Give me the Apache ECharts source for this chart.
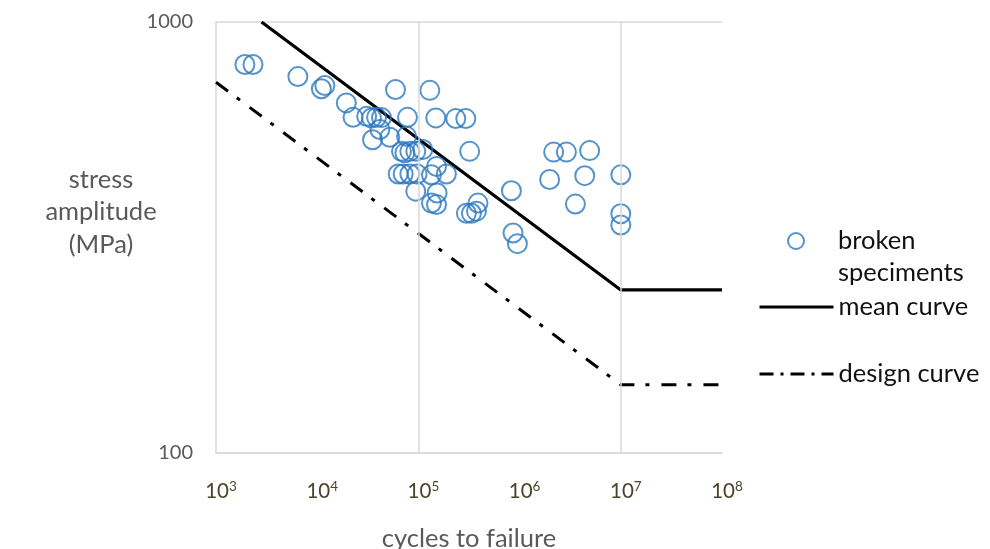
<!DOCTYPE html>
<html>
<head>
<meta charset="utf-8">
<script src="https://cdn.jsdelivr.net/npm/echarts@6/dist/echarts.min.js"></script>
<style>
  html, body { margin: 0; padding: 0; background: #ffffff; }
  #chart { width: 990px; height: 549px; }
</style>
</head>
<body>
<div id="chart"></div>
<script>
// Fatigue test results: cycles to failure vs. stress amplitude (log-log)
const specimenCycles = [
  1930, 2320, 6440, 11000, 11900, 19400, 59400, 129700,
  22600, 30800, 34400, 38600, 43200, 78000, 148600, 234000, 294000,
  35200, 52200, 41600, 76400,
  68100, 73500, 82300, 94200, 110500, 321000,
  63100, 70700, 82300, 97100, 134600, 151000, 189000,
  94200, 153000, 134600, 151000,
  298000, 334000, 375000, 388000,
  2170000, 2900000, 4920000, 1980000, 4400000, 830000, 3560000,
  10000000, 10000000, 10000000, 861000, 951000
];
const specimenStress = [
  797, 797, 747, 700, 712, 649, 697, 694,
  601, 604, 599, 601, 600, 601, 599, 597, 597,
  533, 540, 563, 543,
  501, 497, 501, 501, 506, 501,
  444, 444, 444, 444, 442, 462, 444,
  405, 401, 380, 377,
  360, 360, 364, 380,
  499, 499, 503, 431, 440, 406, 378,
  442, 359, 338, 324, 306
];

// Mean S-N curve: sloped segment, then endurance limit beyond 10^7 cycles
const meanCycles = [2820, 10000000, 100000000];
const meanStress = [1000, 239, 239];

// Design curve
const designCycles = [1000, 10000000, 100000000];
const designStress = [725, 144, 144];

// Vertical reference lines on the cycle axis
const gridCycles = [100000, 10000000];

// Tick labels on the cycle axis (powers of ten)
const xTickValues = [1e3, 1e4, 1e5, 1e6, 1e7, 1e8];
const xTickPowers = ['3', '4', '5', '6', '7', '8'];

const legendNames = ['broken speciments', 'mean curve', 'design curve'];

const pairs = (xs, ys) => xs.map((x, i) => [x, ys[i]]);

const FONT = 'Lato';
const gridColor = '#D9D9D9';
const blue = '#2A78BF';
const dashDot = [15, 11, 4, 12];

const chart = echarts.init(document.getElementById('chart'), null, { renderer: 'canvas' });

const legendText = { fontFamily: FONT, fontSize: 25.5, color: '#111111', lineHeight: 32 };

const lineLegend = (name, top, lineType) => ({
  orient: 'vertical',
  left: 758,
  top: top,
  padding: 0,
  itemWidth: 74,
  itemHeight: 16,
  selectedMode: false,
  itemStyle: { opacity: 0 },
  lineStyle: { width: 3, type: lineType, cap: 'butt' },
  textStyle: legendText,
  data: [name]
});

chart.setOption({
  animation: false,
  backgroundColor: '#ffffff',
  grid: {
    left: 216, top: 22, right: 268, bottom: 96,
    containLabel: false,
    outerBoundsMode: 'none'
  },
  xAxis: {
    type: 'log',
    logBase: 10,
    min: 1e3,
    max: 1e8,
    name: 'cycles to failure',
    nameLocation: 'middle',
    nameGap: 73,
    nameTextStyle: { fontFamily: FONT, fontSize: 25.5, color: '#595959' },
    axisLine: { show: true, lineStyle: { color: gridColor, width: 1.5 } },
    axisTick: { show: false },
    splitLine: { show: false },
    axisLabel: {
      margin: 27,
      padding: [0, 0, 0, 10],
      formatter: function (value) {
        const i = xTickValues.findIndex(v => Math.abs(Math.log10(v) - Math.log10(value)) < 1e-6);
        if (i < 0) return '';
        return '{b|10}{s|' + xTickPowers[i] + '}';
      },
      rich: {
        b: { fontFamily: FONT, fontSize: 20.5, color: '#4A4327', lineHeight: 22, verticalAlign: 'bottom' },
        s: { fontFamily: FONT, fontSize: 13.5, color: '#4A4327', lineHeight: 22, verticalAlign: 'bottom', padding: [0, 0, 8, 0] }
      }
    }
  },
  yAxis: {
    type: 'log',
    logBase: 10,
    min: 100,
    max: 1000,
    axisLine: { show: true, lineStyle: { color: gridColor, width: 1.5 } },
    axisTick: { show: false },
    splitLine: { show: true, lineStyle: { color: gridColor, width: 1.5 } },
    axisLabel: {
      margin: 23,
      fontFamily: FONT,
      fontSize: 20,
      color: '#595959',
      formatter: value => String(Math.round(value))
    }
  },
  graphic: [
    {
      type: 'text',
      x: 101,
      y: 212,
      style: {
        text: 'stress\namplitude\n(MPa)',
        align: 'center',
        verticalAlign: 'middle',
        lineHeight: 32.5,
        fontFamily: FONT,
        fontSize: 25.5,
        fill: '#595959'
      }
    }
  ],
  legend: [
    {
      orient: 'vertical',
      left: 787,
      top: 193,
      padding: 0,
      itemWidth: 16,
      itemHeight: 16,
      selectedMode: false,
      formatter: () => '{sp|}\n{sp|}broken\n{sp|}speciments',
      textStyle: Object.assign({}, legendText, { rich: { sp: { width: 29 } } }),
      data: [legendNames[0]]
    },
    lineLegend(legendNames[1], 291, 'solid'),
    lineLegend(legendNames[2], 358, [14, 7, 3, 7])
  ],
  series: [
    {
      name: 'reference lines',
      type: 'line',
      data: [],
      z: 0,
      silent: true,
      markLine: {
        silent: true,
        symbol: ['none', 'none'],
        label: { show: false },
        lineStyle: { color: gridColor, width: 1.5, type: 'solid' },
        emphasis: { disabled: true },
        data: gridCycles.map(c => ({ xAxis: c }))
      }
    },
    {
      name: legendNames[0],
      type: 'scatter',
      z: 3,
      symbol: 'circle',
      symbolSize: 19,
      itemStyle: { color: 'rgba(0,0,0,0)', borderColor: blue, borderWidth: 2 },
      emphasis: { disabled: true },
      data: pairs(specimenCycles, specimenStress)
    },
    {
      name: legendNames[1],
      type: 'line',
      z: 2,
      symbol: 'none',
      lineStyle: { color: '#000000', width: 3.2 },
      itemStyle: { color: '#000000' },
      data: pairs(meanCycles, meanStress)
    },
    {
      name: legendNames[2],
      type: 'line',
      z: 2,
      symbol: 'none',
      lineStyle: { color: '#000000', width: 3, type: dashDot, cap: 'butt' },
      itemStyle: { color: '#000000' },
      data: pairs(designCycles, designStress)
    }
  ]
});
</script>
</body>
</html>
